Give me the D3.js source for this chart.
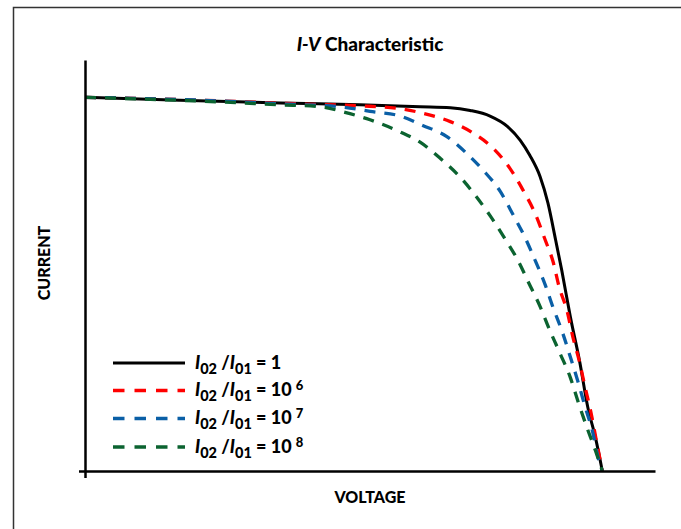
<!DOCTYPE html>
<html>
<head>
<meta charset="utf-8">
<script src="https://cdn.jsdelivr.net/npm/d3@7"></script>
<style>
  body { margin: 0; background: #fff; }
  svg { display: block; font-family: Lato, "Open Sans", sans-serif; font-weight: 900; }
</style>
</head>
<body>
<div id="chart"></div>
<script>
// voltage (V) / current (mA/cm2) pairs
const ratio1 = [[0, 40.0], [0.110, 39.7], [0.226, 39.4], [0.318, 39.2], [0.388, 39.0], [0.423, 38.9],
  [0.446, 38.6], [0.469, 38.0], [0.489, 36.9], [0.504, 35.4], [0.515, 33.8], [0.527, 31.5],
  [0.536, 28.7], [0.545, 24.7], [0.552, 21.5], [0.562, 16.5], [0.573, 11.6], [0.582, 6.9],
  [0.591, 3.6], [0.599, 0]];
const ratio1e6 = [[0, 40.0], [0.133, 39.7], [0.249, 39.3], [0.318, 39.1], [0.365, 38.8], [0.391, 38.3],
  [0.423, 37.4], [0.449, 36.2], [0.472, 34.6], [0.492, 32.4], [0.507, 30.1], [0.522, 27.4],
  [0.533, 24.7], [0.542, 22.4], [0.549, 19.7], [0.558, 17.2], [0.565, 14.3], [0.572, 11.9],
  [0.579, 9.0], [0.586, 6.2], [0.592, 3.3], [0.599, 0]];
const ratio1e7 = [[0, 40.0], [0.133, 39.7], [0.226, 39.3], [0.295, 39.0], [0.330, 38.5], [0.365, 38.0],
  [0.391, 37.0], [0.419, 35.8], [0.442, 34.0], [0.461, 32.2], [0.481, 29.9], [0.497, 27.2],
  [0.509, 25.1], [0.521, 22.6], [0.533, 19.9], [0.542, 17.5], [0.553, 14.8], [0.562, 12.2],
  [0.571, 9.5], [0.579, 6.9], [0.588, 4.1], [0.594, 1.5], [0.599, 0]];
const ratio1e8 = [[0, 40.0], [0.133, 39.6], [0.226, 39.2], [0.272, 39.0], [0.301, 38.4], [0.330, 37.6],
  [0.365, 36.3], [0.388, 35.2], [0.411, 33.5], [0.434, 31.5], [0.452, 29.5], [0.470, 27.2],
  [0.486, 24.9], [0.501, 22.6], [0.514, 20.1], [0.527, 17.6], [0.538, 15.1], [0.550, 12.6],
  [0.562, 10.0], [0.571, 7.4], [0.581, 4.7], [0.591, 2.2], [0.599, 0]];

const seriesNames = ["1", "10", "10", "10"];
const seriesExp = [null, "6", "7", "8"];
const seriesColors = ["#000000", "#ff0000", "#0a5fa6", "#0b6330"];
const seriesData = [ratio1, ratio1e6, ratio1e7, ratio1e8];

var width = 681, height = 529;

var svg = d3.select("#chart").append("svg")
  .attr("width", width)
  .attr("height", height);

// chart frame
svg.append("rect")
  .attr("x", 13.5).attr("y", 7.5)
  .attr("width", 720).attr("height", 560)
  .attr("fill", "none")
  .attr("stroke", "#333")
  .attr("stroke-width", 1.5);

var x = d3.scaleLinear().domain([0, 0.66]).range([85, 655]);
var y = d3.scaleLinear().domain([0, 44]).range([471, 60]);

var line = d3.line()
  .x(function (d) { return x(d[0]); })
  .y(function (d) { return y(d[1]); })
  .curve(d3.curveMonotoneX);

seriesData.forEach(function (s, i) {
  svg.append("path")
    .datum(s)
    .attr("d", line)
    .attr("fill", "none")
    .attr("stroke", seriesColors[i])
    .attr("stroke-width", i == 0 ? 3 : 3.3)
    .attr("stroke-dasharray", i == 0 ? null : "11,9");
});

// axes, no labels, only the origin tick
var xAxis = svg.append("g")
  .attr("transform", "translate(0," + y(0) + ")")
  .call(d3.axisBottom(x).tickValues([0]).tickSize(7).tickSizeOuter(0).tickFormat(""));
var yAxis = svg.append("g")
  .attr("transform", "translate(" + x(0) + ",0)")
  .call(d3.axisLeft(y).tickValues([0]).tickSize(6).tickSizeOuter(0).tickFormat(""));
svg.selectAll(".domain, .tick line")
  .attr("stroke", "#000")
  .attr("stroke-width", 2.5);

// title
var title = svg.append("text")
  .attr("x", 370).attr("y", 51)
  .attr("text-anchor", "middle")
  .style("font-size", "19px");
title.append("tspan").style("font-style", "italic").text("I-V");
title.append("tspan").text(" Characteristic");

svg.append("text")
  .attr("x", 370).attr("y", 503)
  .attr("text-anchor", "middle")
  .style("font-size", "16px")
  .text("VOLTAGE");

svg.append("text")
  .attr("transform", "translate(50,263) rotate(-90)")
  .attr("text-anchor", "middle")
  .style("font-size", "16px")
  .text("CURRENT");

// legend
var legendY = [363, 390.5, 418.5, 447];
seriesData.forEach(function (s, i) {
  var g = svg.append("g");
  g.append("line")
    .attr("x1", 113).attr("x2", 185)
    .attr("y1", legendY[i]).attr("y2", legendY[i])
    .attr("stroke", seriesColors[i])
    .attr("stroke-width", i == 0 ? 3 : 3.3)
    .attr("stroke-dasharray", i == 0 ? null : "11.5,10");
  var t = g.append("text")
    .attr("x", 195).attr("y", legendY[i] + 5.5)
    .style("font-size", "18px");
  t.append("tspan").style("font-style", "italic").text("I");
  t.append("tspan").attr("dy", 5).style("font-size", "14.5px").text("02");
  t.append("tspan").attr("dy", -5).text(" /");
  t.append("tspan").style("font-style", "italic").text("I");
  t.append("tspan").attr("dy", 5).style("font-size", "14.5px").text("01");
  t.append("tspan").attr("dy", -5).text(" = " + seriesNames[i]);
  if (seriesExp[i]) {
    t.append("tspan").attr("dy", -6).attr("dx", 4).style("font-size", "13px").text(seriesExp[i]);
  }
});
</script>
</body>
</html>
